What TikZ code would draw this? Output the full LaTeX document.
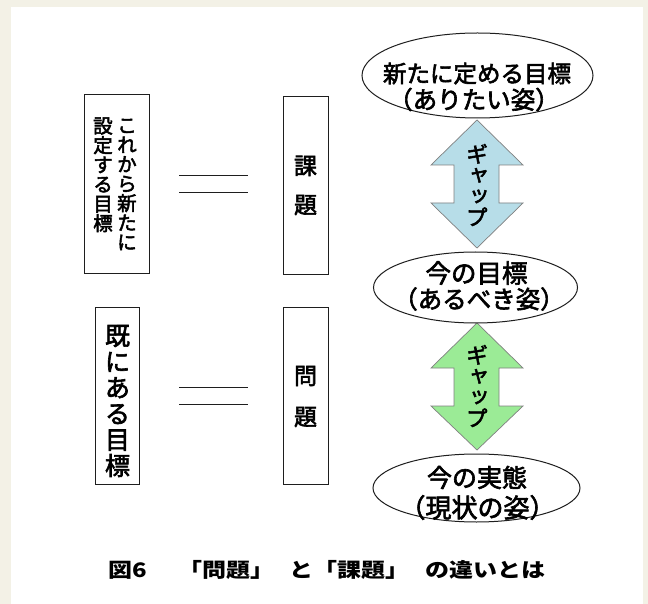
\documentclass[tikz,border=0pt]{standalone}
\usepackage{fontspec}
\usepackage{graphicx}
\setmainfont{Noto Sans CJK JP}
\newfontfamily\jp[FakeBold=2.5]{Noto Sans CJK JP}
\newfontfamily\jpv[RawFeature={+vert},FakeBold=2.5]{Noto Sans CJK JP}
\usetikzlibrary{shapes.geometric}
\definecolor{bg}{RGB}{243,241,230}
\definecolor{gapblue}{RGB}{183,221,232}
\definecolor{gapgreen}{RGB}{155,235,150}
\definecolor{ink}{RGB}{30,30,30}
\newcommand\fsz[2]{\fontsize{#1}{#2}\selectfont}
\begin{document}
\begin{tikzpicture}[x=1pt,y=-1pt,
  termbox/.style={rectangle, draw=ink, line width=1pt, fill=white, inner sep=0pt},
  goal/.style={ellipse, draw=ink, line width=1pt, fill=white, inner sep=0pt},
  txt/.style={inner sep=0pt, align=center, text=black},
  eqline/.style={draw=ink, line width=1pt},
  gaparrow/.style={draw=gray, line width=0.7pt}]
\useasboundingbox (0,0) rectangle (648,604);
\fill[bg] (0,0) rectangle (648,604);
\fill[white] (11,7.5) rectangle (643,604);

% left boxes
\node[termbox, minimum width=65pt, minimum height=178pt] (b1) at (116.5,184) {};
\node[txt, font=\jp\fsz{19.5}{19.5}] (b1r) at (127,184.5) {こ\\れ\\か\\ら\\新\\た\\に};
\node[txt, font=\jp\fsz{19.5}{19.5}] (b1l) at (103,174.75) {設\\定\\す\\る\\目\\標};

\node[termbox, minimum width=44pt, minimum height=177pt] (b2) at (117,395.5) {};
\node[txt, font=\jp\fsz{25}{26}] (b2t) at (117.5,401) {既\\に\\あ\\る\\目\\標};

% right boxes
\node[termbox, minimum width=45pt, minimum height=177pt] (k) at (305.5,185.5) {};
\node[txt, font=\jp\fsz{23}{39}] (kt) at (305.5,185.5) {課\\題};
\node[termbox, minimum width=45pt, minimum height=177pt] (m) at (305.5,395.5) {};
\node[txt, font=\jp\fsz{23}{41}] (mt) at (305.5,396.5) {問\\題};

% equal signs
\coordinate (e1a) at (179,176); \coordinate (e1b) at (248,176);
\coordinate (e2a) at (179,193); \coordinate (e2b) at (248,193);
\coordinate (e3a) at (179,387); \coordinate (e3b) at (248,387);
\coordinate (e4a) at (179,404); \coordinate (e4b) at (248,404);
\draw[eqline] (e1a) -- (e1b);
\draw[eqline] (e2a) -- (e2b);
\draw[eqline] (e3a) -- (e3b);
\draw[eqline] (e4a) -- (e4b);

% gap arrows
\path[fill=gapblue, gaparrow] (477,120) -- (523,165) -- (499,165) -- (499,203) -- (523,203) -- (477,248) -- (431,203) -- (454,203) -- (454,165) -- (431,165) -- cycle;
\node[txt, font=\jpv\fsz{22}{21}] (g1) at (477,185) {ギ\\ャ\\ッ\\プ};
\path[fill=gapgreen, gaparrow] (477,323) -- (523,368) -- (499,368) -- (499,406) -- (523,406) -- (477,450) -- (431,406) -- (454,406) -- (454,368) -- (431,368) -- cycle;
\node[txt, font=\jpv\fsz{22}{21}] (g2) at (477,386) {ギ\\ャ\\ッ\\プ};

% ellipses
\node[goal, minimum width=231pt, minimum height=85pt] (el1) at (477.5,75.5) {};
\node[txt, font=\jp\fsz{23.5}{23.5}] (el1a) at (477,73.5) {新たに定める目標};
\node[txt, font=\jp\fsz{24.5}{24.5}] (el1b) at (474,99.5) {（ありたい姿）};

\node[goal, minimum width=204pt, minimum height=71pt] (el2) at (475.5,287.5) {};
\node[txt, font=\jp\fsz{25.5}{25.5}] (el2a) at (476.5,273) {今の目標};
\node[txt, font=\jp\fsz{24.5}{24.5}] (el2b) at (479,299) {（あるべき姿）};

\node[goal, minimum width=207pt, minimum height=68pt] (el3) at (476.5,488) {};
\node[txt, font=\jp\fsz{25}{25}] (el3a) at (477,477.5) {今の実態};
\node[txt, font=\jp\fsz{26}{26}] (el3b) at (477.5,507.5) {（現状の姿）};

% caption
\node[txt, anchor=west, font=\rmfamily\bfseries\fsz{20}{20}] (cap1) at (108,570) {\scalebox{1.2}[1]{図6}};
\node[txt, anchor=west, font=\rmfamily\bfseries\fsz{20}{20}] (cap2) at (178,570) {\scalebox{1.2}[1]{「問題」\hspace{13pt}と「課題」\hspace{13pt}の違いとは}};
\end{tikzpicture}
\end{document}
